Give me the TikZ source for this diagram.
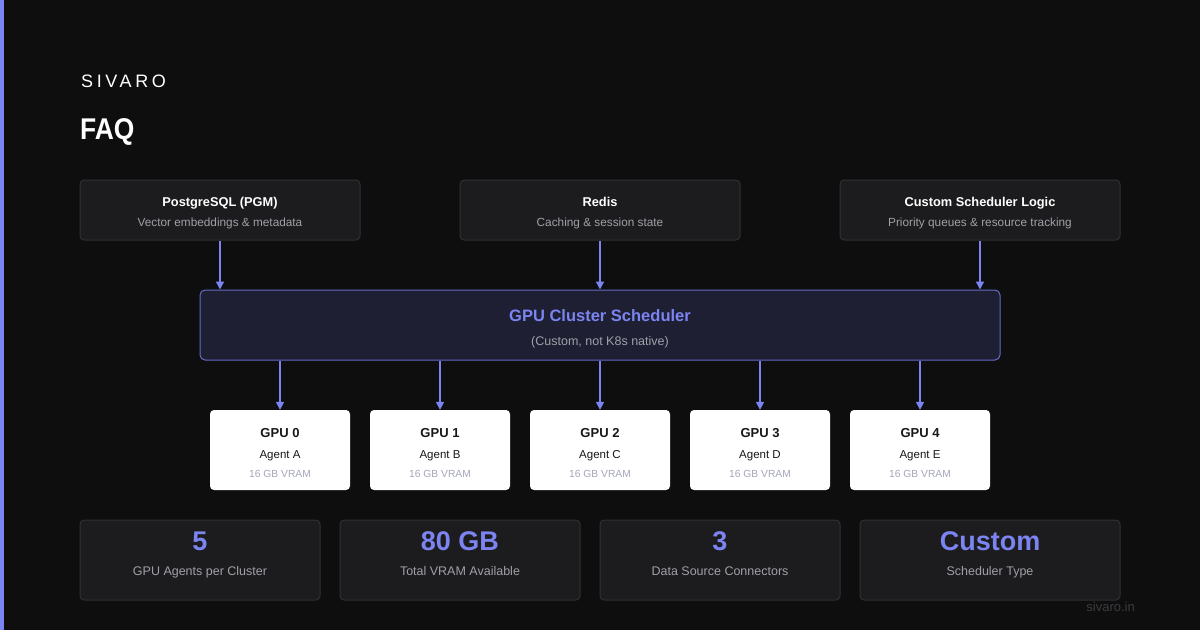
\documentclass[tikz,border=0pt]{standalone}
\usepackage{fontspec}
\usepackage{graphicx}
\setmainfont{Liberation Sans}
\usetikzlibrary{arrows.meta}
\definecolor{bg}{HTML}{0E0E0F}
\definecolor{accent}{HTML}{7B84F0}
\definecolor{boxfill}{HTML}{1C1C1E}
\definecolor{boxline}{HTML}{303033}
\definecolor{schedfill}{HTML}{1E1F33}
\definecolor{schedline}{HTML}{646BC8}
\definecolor{subgray}{HTML}{A0A0A8}
\definecolor{vramgray}{HTML}{A4A6B8}
\definecolor{darktext}{HTML}{18181B}
\definecolor{dimtext}{HTML}{3C3C40}
\tikzset{
  srcbox/.style={draw=boxline, fill=boxfill, rounded corners=4pt, line width=1pt, minimum width=280pt, minimum height=60pt, inner sep=0pt},
  statbox/.style={draw=boxline, fill=boxfill, rounded corners=4pt, line width=1pt, minimum width=240pt, minimum height=80pt, inner sep=0pt},
  gpubox/.style={fill=white, rounded corners=4pt, minimum width=140pt, minimum height=80pt, inner sep=0pt},
  schedbox/.style={draw=schedline, fill=schedfill, rounded corners=5pt, line width=1pt, minimum width=800pt, minimum height=70pt, inner sep=0pt},
  title/.style={anchor=base, text=white, font=\fontsize{12.8}{15}\selectfont\bfseries, inner sep=0pt},
  sub/.style={anchor=base, text=subgray, font=\fontsize{11.8}{13}\selectfont, inner sep=0pt},
  conn/.style={draw=accent, line width=1.5pt, -{Triangle[length=8pt,width=8pt]}},
  gtitle/.style={anchor=base, text=darktext, font=\fontsize{13}{15}\selectfont\bfseries, inner sep=0pt},
  gagent/.style={anchor=base, text=darktext, font=\fontsize{11.5}{13}\selectfont, inner sep=0pt},
  gvram/.style={anchor=base, text=vramgray, font=\fontsize{10.3}{12}\selectfont, inner sep=0pt},
  statval/.style={anchor=base, text=accent, font=\fontsize{27}{30}\selectfont\bfseries, inner sep=0pt},
  statlbl/.style={anchor=base, text=subgray, font=\fontsize{12.5}{14}\selectfont, inner sep=0pt},
}
\begin{document}
\begin{tikzpicture}[x=1pt,y=-1pt]
\fill[bg] (0,0) rectangle (1200,630);
\useasboundingbox (0,0) rectangle (1200,630);
\fill[accent] (0,0) rectangle (4,630);
\node[anchor=base west, text=white, inner sep=0pt, font=\fontsize{18}{22}\selectfont] (logo) at (81,87) {\addfontfeature{LetterSpace=20}SIVARO};
\node[anchor=base west, text=white, inner sep=0pt, font=\fontsize{30}{34}\selectfont\bfseries] (faq) at (80,139.5) {\scalebox{0.88}[1]{FAQ}};
% source boxes
\node[srcbox] (pg) at (220,210) {};
\node[srcbox] (rd) at (600,210) {};
\node[srcbox] (cs) at (980,210) {};
\node[title] at (220,206) {PostgreSQL (PGM)};
\node[sub] at (220,226) {Vector embeddings \& metadata};
\node[title] at (600,206) {Redis};
\node[sub] at (600,226) {Caching \& session state};
\node[title] at (980,206) {Custom Scheduler Logic};
\node[sub] at (980,226) {Priority queues \& resource tracking};
% scheduler
\node[schedbox] (sch) at (600,325) {};
\node[anchor=base, text=accent, font=\fontsize{16.5}{19}\selectfont\bfseries, inner sep=0pt] at (600,321.5) {GPU Cluster Scheduler};
\node[sub, font=\fontsize{12.5}{14}\selectfont] at (600,345.5) {(Custom, not K8s native)};
\draw[conn] (pg.south) -- (pg.south |- sch.north);
\draw[conn] (rd.south) -- (rd.south |- sch.north);
\draw[conn] (cs.south) -- (cs.south |- sch.north);
% GPUs
\foreach \i/\x/\ag in {0/280/A,1/440/B,2/600/C,3/760/D,4/920/E}{
  \node[gpubox] (g\i) at (\x,450) {};
  \node[gtitle] at (\x,437.7) {GPU \i};
  \node[gagent] at (\x,458) {Agent \ag};
  \node[gvram] at (\x,477.7) {16 GB VRAM};
  \draw[conn] (g\i.north |- sch.south) -- (g\i.north);
}
% stats
\foreach \n/\x/\w/\v/\l in {s1/200/240/5/GPU Agents per Cluster, s2/460/240/80 GB/Total VRAM Available, s3/720/240/3/Data Source Connectors, s4/990/260/Custom/Scheduler Type}{
  \node[statbox, minimum width=\w pt] (\n) at (\x,560) {};
  \node[statval] at (\x,550.5) {\v};
  \node[statlbl] at (\x,575) {\l};
}
\node[anchor=base east, text=dimtext, inner sep=0pt, font=\fontsize{13}{15}\selectfont] (site) at (1135,611) {sivaro.in};
\end{tikzpicture}
\end{document}
